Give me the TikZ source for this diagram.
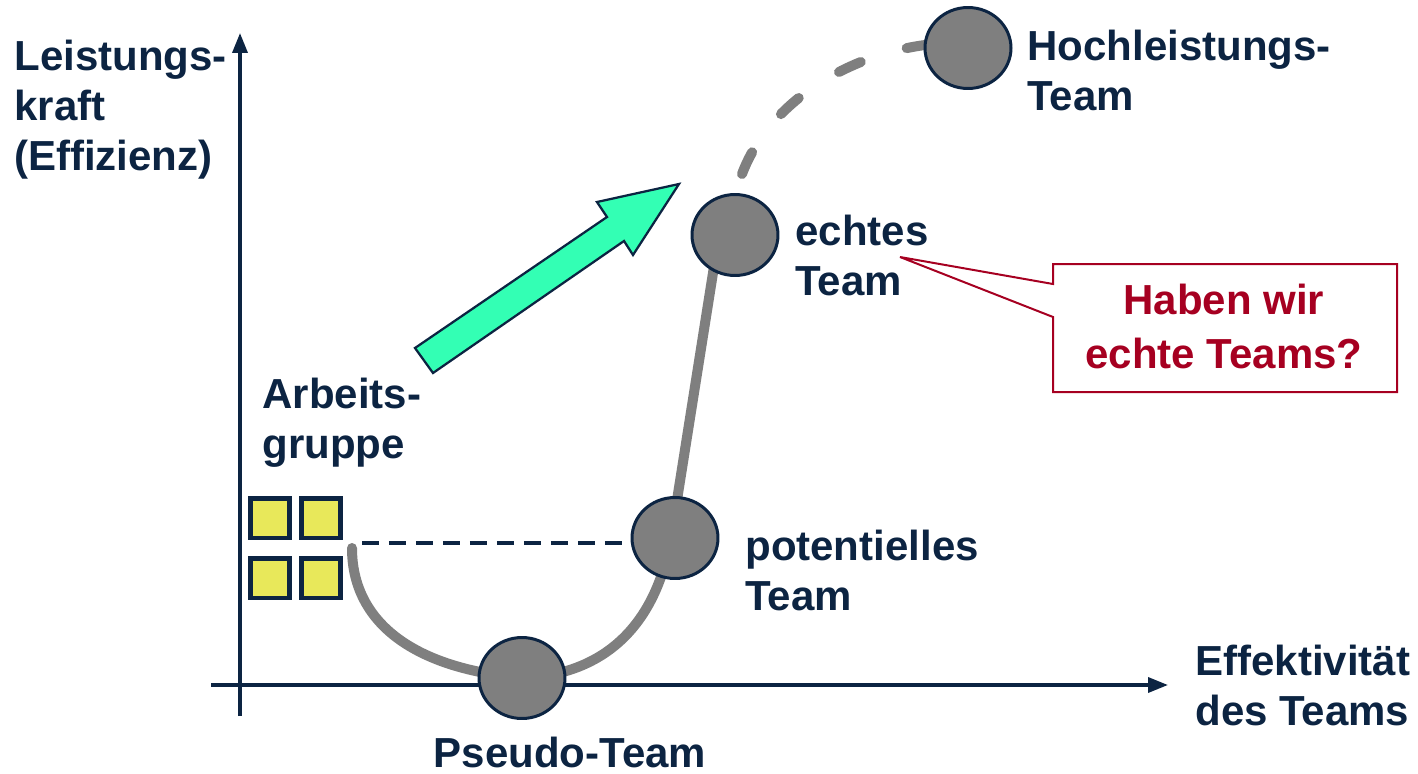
\documentclass[tikz,border=0pt]{standalone}
\usepackage{fontspec}
\setmainfont{Liberation Sans}
\usetikzlibrary{arrows.meta,shapes.geometric}
\definecolor{navy}{RGB}{12,36,66}
\definecolor{greyc}{RGB}{127,127,127}
\definecolor{mint}{RGB}{51,255,180}
\definecolor{yel}{RGB}{232,232,90}
\definecolor{redc}{RGB}{166,0,33}
\begin{document}
\begin{tikzpicture}[x=0.02cm,y=-0.02cm,
  lbl/.style={font=\fontsize{23.9}{28.45}\selectfont\bfseries, text=navy, align=left, inner sep=0pt, anchor=base west},
  stage/.style={ellipse, draw=navy, line width=0.06cm, fill=greyc, minimum width=1.72cm, minimum height=1.62cm, inner sep=0pt},
  axisline/.style={draw=navy, line width=0.07cm, -{Triangle[length=0.4cm,width=0.3cm]}},
  curveline/.style={draw=greyc, line width=0.2cm, line cap=round},
  sqbox/.style={draw=navy, line width=0.1cm, fill=yel, minimum size=0.8cm, inner sep=0pt},
]
\useasboundingbox (0,0) rectangle (1418,774);

% axes
\coordinate (yb) at (240,716);
\coordinate (yt) at (240,33);
\coordinate (xl) at (211,685);
\coordinate (xr) at (1168,685);
\draw[axisline] (yb) -- (yt);
\draw[axisline] (xl) -- (xr);

% stage positions
\coordinate (cstart) at (352,548);
\coordinate (pseudoc) at (522,678);
\coordinate (potc) at (671,538);
\coordinate (echtin) at (719,235);
\coordinate (dstart) at (742,174);
\coordinate (dend) at (925,45);

% solid grey curve
\draw[curveline] (cstart) .. controls (352,620) and (410,668) .. (pseudoc)
  .. controls (600,675) and (655,630) .. (potc) -- (echtin);
% dashed grey curve
\draw[curveline, dash pattern=on 0.48cm off 0.96cm] (dstart) .. controls (770,100) and (850,55) .. (dend);

% dashed navy line
\coordinate (dl) at (362,543);
\coordinate (dr) at (634,543);
\draw[navy, line width=0.07cm, dash pattern=on 0.34cm off 0.2cm] (dl) -- (dr);

% stage circles
\node[stage] (pseudo) at (522,678) {};
\node[stage] (pot) at (675,538) {};
\node[stage] (echt) at (735,235) {};
\node[stage] (hoch) at (968,48) {};

% squares
\node[sqbox] (s1) at (270,518) {};
\node[sqbox] (s2) at (321,518) {};
\node[sqbox] (s3) at (270,578) {};
\node[sqbox] (s4) at (321,578) {};

% green arrow
\draw[navy, line width=0.045cm, fill=mint, line join=miter]
  (415,348) -- (607,217) -- (597,202) -- (679,184) -- (633,255) -- (624,241) -- (433,373) -- cycle;

% callout
\draw[redc, line width=0.04cm, fill=white]
  (1053,264) -- (1397,264) -- (1397,392) -- (1053,392) -- (1053,317) -- (900,257) -- (1053,284) -- cycle;
\node[font=\fontsize{23.9}{30.2}\selectfont\bfseries, text=redc, align=center, inner sep=0pt, anchor=base] (q) at (1224,368) {Haben wir\\echte Teams?};

% labels (anchor at baseline of last line)
\node[lbl] (ylab) at (14,170) {Leistungs-\\kraft\\(Effizienz)};
\node[lbl] (hochl) at (1027,110) {Hochleistungs-\\Team};
\node[lbl] (echtl) at (795,295) {echtes\\Team};
\node[lbl] (potl) at (745,610) {potentielles\\Team};
\node[lbl] (arbl) at (262,458) {Arbeits-\\gruppe};
\node[lbl] (xlab) at (1195,725) {Effektivität\\des Teams};
\node[lbl, anchor=base] (pseudol) at (570,767) {Pseudo-Team};
\end{tikzpicture}
\end{document}
